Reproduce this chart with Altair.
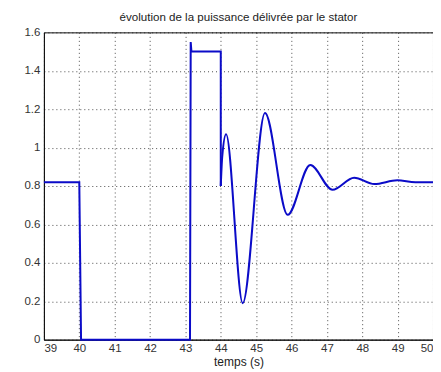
import altair as alt
import pandas as pd

# step part (linear)
t_step = [39.0, 40.0, 40.05, 43.13, 43.15, 43.17, 43.96, 44.0, 44.0]
p_step = [0.82, 0.82, 0.0, 0.0, 1.55, 1.50, 1.50, 1.50, 0.80]

# oscillation part (smooth)
t_osc = [44.0, 44.04, 44.15, 44.62, 45.25, 45.89, 46.53, 47.16, 47.77, 48.34, 48.99, 49.5, 50.0]
p_osc = [0.80, 0.95, 1.07, 0.19, 1.18, 0.65, 0.91, 0.78, 0.843, 0.81, 0.83, 0.82, 0.82]

x_ticks = list(range(39, 51))
y_ticks = [0, 0.2, 0.4, 0.6, 0.8, 1.0, 1.2, 1.4, 1.6]

df1 = pd.DataFrame({"t": t_step, "p": p_step})
df2 = pd.DataFrame({"t": t_osc, "p": p_osc})

LINE = "#0b0bc8"
FONT = "Liberation Sans"

xenc = alt.X("t:Q", scale=alt.Scale(domain=[39, 50], nice=False, zero=False),
             axis=alt.Axis(values=x_ticks, title="temps (s)", format="d"))
yenc = alt.Y("p:Q", scale=alt.Scale(domain=[0, 1.6], nice=False),
             axis=alt.Axis(values=y_ticks, title=None, format=".1~f"))

l1 = alt.Chart(df1).mark_line(color=LINE, strokeWidth=2, interpolate="linear").encode(x=xenc, y=yenc)
l2 = alt.Chart(df2).mark_line(color=LINE, strokeWidth=2, interpolate="monotone").encode(x=xenc, y=yenc)

chart = alt.layer(l1, l2).properties(
    width=390, height=308,
    title=alt.TitleParams("évolution de la puissance délivrée par le stator",
                          fontSize=11.6, fontWeight="normal", font=FONT, color="#222",
                          anchor="middle", offset=3),
    autosize=alt.AutoSizeParams(type="none"),
    padding={"left": 36, "top": 24, "right": 0, "bottom": 30},
).configure_view(
    stroke="#111", strokeWidth=1
).configure_axis(
    grid=True, gridColor="#000", gridDash=[1, 3], gridOpacity=0.7, gridWidth=1,
    ticks=False, domain=True, domainColor="#111",
    labelFont=FONT, labelFontSize=11.5, labelColor="#333",
    titleFont=FONT, titleFontSize=12, titleColor="#222", titleFontWeight="normal",
).configure_axisX(
    labelPadding=3, titlePadding=2
).configure_axisY(
    labelPadding=4
)

chart.save("out.html", embed_options={"renderer": "svg", "actions": False})
